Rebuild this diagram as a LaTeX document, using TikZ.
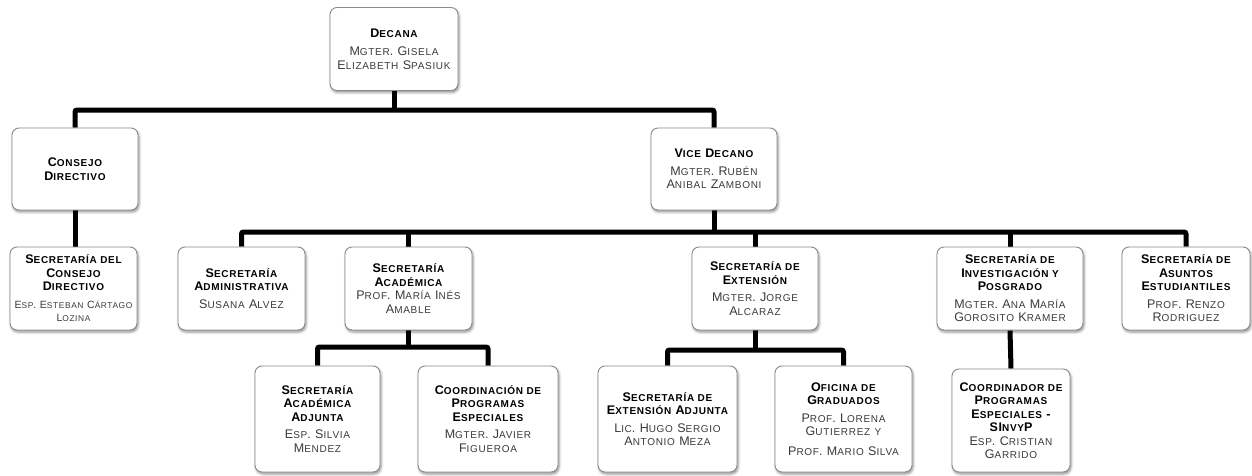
\documentclass[tikz,border=0pt]{standalone}
\usepackage{fontspec}
\setmainfont{Liberation Sans}[LetterSpace=7]
\usetikzlibrary{shadows.blur,backgrounds}
\definecolor{namegray}{HTML}{3A3A3A}
\definecolor{boxborder}{HTML}{8A8A8A}
\makeatletter
\newcommand\lc[1]{{\edef\lcsz{\strip@pt\dimexpr 0.8\dimexpr\f@size pt\relax\relax}\fontsize{\lcsz}{\f@baselineskip}\selectfont #1}}
\makeatother
\newcommand\ttl[1]{{\bfseries #1}}
\newcommand\nm[1]{{\color{namegray}#1}}
\tikzset{
  orgbox/.style={draw=boxborder, line width=0.9pt, fill=white, rounded corners=7pt,
    align=center, inner sep=2pt, minimum height=83pt,
    font=\fontsize{12.5}{13.5}\selectfont,
    blur shadow={shadow xshift=1pt, shadow yshift=-2pt, shadow blur radius=2.5pt, shadow opacity=45}},
  conn/.style={line width=5pt, black, rounded corners=2pt},
}
\begin{document}
\begin{tikzpicture}[x=1pt,y=1pt]
\useasboundingbox (0,0) rectangle (1252,475);
% row 0
\node[orgbox, minimum width=128pt] (decana) at (394,426)
  {\ttl{D\lc{ECANA}}\\[5pt]\nm{M\lc{GTER}. G\lc{ISELA}}\\\nm{E\lc{LIZABETH} S\lc{PASIUK}}};
% row 1
\node[orgbox, minimum width=126pt, minimum height=82pt] (consejo) at (75,306)
  {\ttl{C\lc{ONSEJO}}\\\ttl{D\lc{IRECTIVO}}};
\node[orgbox, minimum width=126pt, minimum height=82pt] (vice) at (714,306)
  {\ttl{V\lc{ICE} D\lc{ECANO}}\\[4pt]\nm{M\lc{GTER}. R\lc{UBÉN}}\\\nm{A\lc{NIBAL} Z\lc{AMBONI}}};
% row 2
\node[orgbox, minimum width=127pt] (secconsejo) at (73.5,186.5)
  {\ttl{S\lc{ECRETARÍA DEL}}\\\ttl{C\lc{ONSEJO}}\\\ttl{D\lc{IRECTIVO}}\\[4pt]\nm{\fontsize{10.5}{13.5}\selectfont E\lc{SP}. E\lc{STEBAN} C\lc{ÁRTAGO}}\\\nm{\fontsize{10.5}{13.5}\selectfont L\lc{OZINA}}};
\node[orgbox, minimum width=127pt] (admin) at (241.5,186.5)
  {\ttl{S\lc{ECRETARÍA}}\\\ttl{A\lc{DMINISTRATIVA}}\\[4pt]\nm{S\lc{USANA} A\lc{LVEZ}}};
\node[orgbox, minimum width=127pt] (academica) at (408.5,186.5)
  {\ttl{S\lc{ECRETARÍA}}\\\ttl{A\lc{CADÉMICA}}\\\nm{P\lc{ROF}. M\lc{ARÍA} I\lc{NÉS}}\\\nm{A\lc{MABLE}}};
\node[orgbox, minimum width=126pt] (extension) at (755,186.5)
  {\ttl{S\lc{ECRETARÍA DE}}\\\ttl{E\lc{XTENSIÓN}}\\[4pt]\nm{M\lc{GTER}. J\lc{ORGE}}\\\nm{A\lc{LCARAZ}}};
\node[orgbox, minimum width=146pt] (investigacion) at (1010,186.5)
  {\ttl{S\lc{ECRETARÍA DE}}\\\ttl{I\lc{NVESTIGACIÓN Y}}\\\ttl{P\lc{OSGRADO}}\\[4pt]\nm{M\lc{GTER}. A\lc{NA} M\lc{ARÍA}}\\\nm{G\lc{OROSITO} K\lc{RAMER}}};
\node[orgbox, minimum width=128pt] (asuntos) at (1186,186.5)
  {\ttl{S\lc{ECRETARÍA DE}}\\\ttl{A\lc{SUNTOS}}\\\ttl{E\lc{STUDIANTILES}}\\[4pt]\nm{P\lc{ROF}. R\lc{ENZO}}\\\nm{R\lc{ODRIGUEZ}}};
% row 3
\node[orgbox, minimum width=125pt, minimum height=106pt] (adjunta) at (317.5,56)
  {\ttl{S\lc{ECRETARÍA}}\\\ttl{A\lc{CADÉMICA}}\\\ttl{A\lc{DJUNTA}}\\[4pt]\nm{E\lc{SP}. S\lc{ILVIA}}\\\nm{M\lc{ENDEZ}}};
\node[orgbox, minimum width=140pt, minimum height=106pt] (coord) at (488,56)
  {\ttl{C\lc{OORDINACIÓN DE}}\\\ttl{P\lc{ROGRAMAS}}\\\ttl{E\lc{SPECIALES}}\\[4pt]\nm{M\lc{GTER}. J\lc{AVIER}}\\\nm{F\lc{IGUEROA}}};
\node[orgbox, minimum width=139pt, minimum height=106pt] (extadj) at (667.5,56)
  {\ttl{S\lc{ECRETARÍA DE}}\\\ttl{E\lc{XTENSIÓN} A\lc{DJUNTA}}\\[4pt]\nm{L\lc{IC}. H\lc{UGO} S\lc{ERGIO}}\\\nm{A\lc{NTONIO} M\lc{EZA}}};
\node[orgbox, minimum width=137pt, minimum height=106pt] (oficina) at (843.5,56)
  {\ttl{O\lc{FICINA DE}}\\\ttl{G\lc{RADUADOS}}\\[4pt]\nm{P\lc{ROF}. L\lc{ORENA}}\\\nm{G\lc{UTIERREZ} \lc{Y}}\\[6pt]\nm{P\lc{ROF}. M\lc{ARIO} S\lc{ILVA}}};
\node[orgbox, minimum width=118pt, minimum height=103pt] (coordinador) at (1011,54.5)
  {\ttl{C\lc{OORDINADOR DE}}\\\ttl{P\lc{ROGRAMAS}}\\\ttl{E\lc{SPECIALES} -}\\\ttl{SI\lc{NVY}P}\\\nm{E\lc{SP}. C\lc{RISTIAN}}\\\nm{G\lc{ARRIDO}}};
% bus coordinates
\coordinate (b1) at (0,365);
\coordinate (b2) at (0,243);
\coordinate (b3) at (0,128);
\coordinate (b4) at (0,125);
% connectors (behind boxes)
\begin{scope}[on background layer]
  \draw[conn] (consejo.north) |- (b1 -| vice.north) -- (vice.north);
  \draw[conn] (decana.south) -- (decana.south |- b1);
  \draw[conn] (consejo.south) -- (consejo.south |- secconsejo.north);
  \draw[conn] (admin.north) |- (b2 -| asuntos.north) -- (asuntos.north);
  \draw[conn] (vice.south) -- (vice.south |- b2);
  \draw[conn] (academica.north) -- (academica.north |- b2);
  \draw[conn] (extension.north) -- (extension.north |- b2);
  \draw[conn] (investigacion.north) -- (investigacion.north |- b2);
  \draw[conn] (adjunta.north) |- (b3 -| coord.north) -- (coord.north);
  \draw[conn] (academica.south) -- (academica.south |- b3);
  \draw[conn] (extadj.north) |- (b4 -| oficina.north) -- (oficina.north);
  \draw[conn] (extension.south) -- (extension.south |- b4);
  \draw[conn] (investigacion.south) -- (coordinador.north);
\end{scope}
\end{tikzpicture}
\end{document}
